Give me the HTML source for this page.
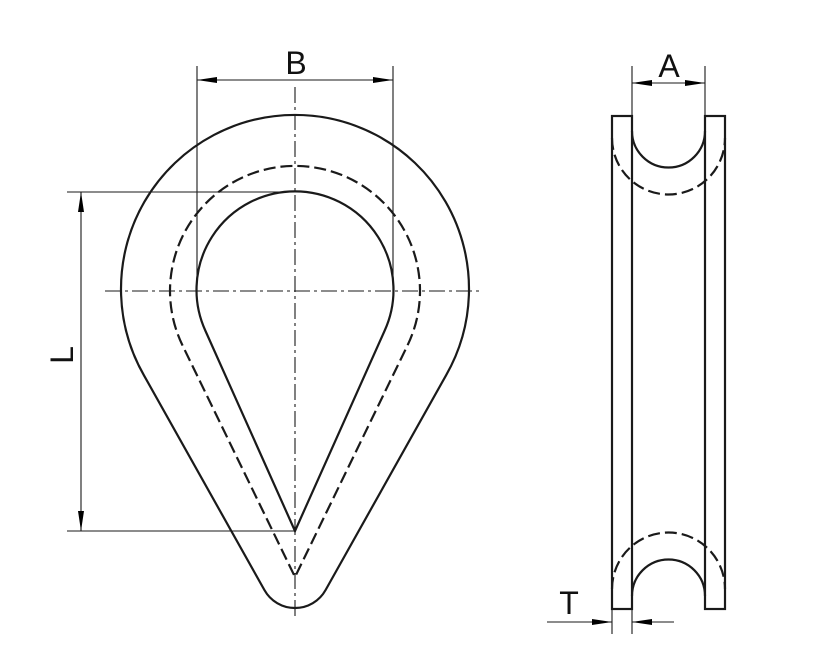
<!DOCTYPE html>
<html><head><meta charset="utf-8"><style>html,body{margin:0;padding:0;background:#fff}svg{display:block}</style></head>
<body>
<svg width="821" height="662" viewBox="0 0 821 662" xmlns="http://www.w3.org/2000/svg">
<defs>
<marker id="ar" viewBox="0 0 20 8" refX="20" refY="4" markerWidth="20" markerHeight="8" markerUnits="userSpaceOnUse" orient="auto-start-reverse">
<path d="M0,1 L20,4 L0,7 Z" fill="#000"/></marker>
</defs>
<g fill="none" stroke="#1a1a1a" stroke-width="2.2">
<path d="M144,375.4 A174,174 0 1 1 446,375.4 L325.6,590 A35,35 0 0 1 264.4,590 Z"/>
<path d="M205.5,331 A98.5,98.5 0 1 1 384.5,331 L295,531 Z"/>
<path d="M182.5,345.4 A125,125 0 1 1 407.5,345.4 L295,577 Z" stroke-dasharray="12,5"/>
<rect x="612" y="116" width="20" height="493"/>
<rect x="705" y="116" width="20" height="493"/>
<path d="M632,131 A36.5,36.5 0 0 0 705,131"/>
<path d="M632,596 A36.5,36.5 0 0 1 705,596"/>
<path d="M612,138 A56.5,56.5 0 0 0 725,138" stroke-dasharray="12,5"/>
<path d="M612,589 A56.5,56.5 0 0 1 725,589" stroke-dasharray="12,5"/>
</g>
<g fill="none" stroke="#1a1a1a" stroke-width="1.1">
<path d="M105,291 H482" stroke-dasharray="16,4,3,4"/>
<path d="M295,87 V620" stroke-dasharray="16,4,3,4"/>
<path d="M197,66 V291 M393,66 V291"/>
<path d="M197,80 H393" marker-start="url(#ar)" marker-end="url(#ar)"/>
<path d="M67,192 H295 M67,531 H295"/>
<path d="M81,192 V531" marker-start="url(#ar)" marker-end="url(#ar)"/>
<path d="M632,66 V116 M705,66 V116"/>
<path d="M632,83 H705" marker-start="url(#ar)" marker-end="url(#ar)"/>
<path d="M612,609 V634 M632,609 V634"/>
<path d="M547,622 H612" marker-end="url(#ar)"/>
<path d="M674,622 H632" marker-end="url(#ar)"/>
</g>
<g font-family="Liberation Sans, sans-serif" font-size="32" fill="#111" text-anchor="middle">
<text x="296" y="74">B</text>
<text x="669" y="77">A</text>
<text x="569" y="614">T</text>
<text x="0" y="0" transform="translate(73,355) rotate(-90)">L</text>
</g>
</svg>
</body></html>
